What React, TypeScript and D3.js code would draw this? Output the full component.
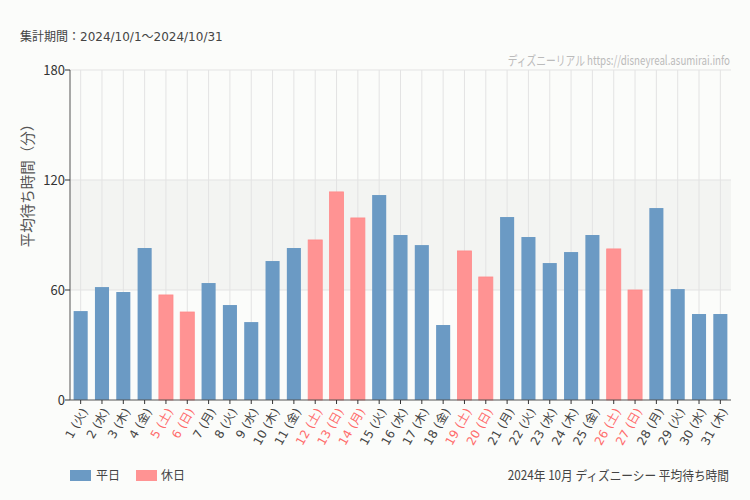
import React from "react";
import * as d3 from "d3";

const days = ["1","2","3","4","5","6","7","8","9","10","11","12","13","14","15","16","17","18","19","20","21","22","23","24","25","26","27","28","29","30","31"];
const weekdays = ["火","水","木","金","土","日","月","火","水","木","金","土","日","月","火","水","木","金","土","日","月","火","水","木","金","土","日","月","火","水","木"];
const holidays = [false,false,false,false,true,true,false,false,false,false,false,true,true,true,false,false,false,false,true,true,false,false,false,false,false,true,true,false,false,false,false];
const waitTimes = [48.5,61.6,58.9,82.9,57.3,48,63.8,51.8,42.5,75.8,82.9,87.3,113.5,99.3,111.8,90,84.5,40.9,81.3,67.1,99.8,88.9,74.7,80.7,90,82.4,60,104.7,60.5,46.9,46.9];
const yTicks = [0, 60, 120, 180];

const W = 750, H = 500;
const left = 70, right = 731, top = 70, bottom = 400;

export default function App() {
  const labels = days.map((d, i) => `${d} (${weekdays[i]})`);
  const x = d3.scaleBand<string>().domain(labels).range([left, right]).paddingInner(0.34).paddingOuter(0.17);
  const y = d3.scaleLinear().domain([0, 180]).range([bottom, top]);
  const blue = "#6b9ac4";
  const pink = "#ff9393";
  const redText = "#ff6b6b";
  const font = "'Noto Sans CJK JP', 'Noto Sans', sans-serif";
  const wide = "'DejaVu Sans', 'Noto Sans CJK JP', sans-serif";
  return (
    <svg width={W} height={H} style={{ position: "absolute", left: 0, top: 0, background: "#fbfcfa" }} fontFamily={font}>
      <rect x={0} y={0} width={W} height={H} fill="#fbfcfa" />
      <text x={20} y={41} fontSize={12} fill="#444" fontFamily={wide}>集計期間：2024/10/1〜2024/10/31</text>
      <g transform="translate(730,65) scale(0.75,1)">
        <text x={0} y={0} fontSize={13} fill="#bbb" textAnchor="end">ディズニーリアル https://disneyreal.asumirai.info</text>
      </g>
      {/* band 60-120 */}
      <rect x={left} y={y(120)} width={right - left} height={y(60) - y(120)} fill="#f3f4f2" />
      {/* vertical grid */}
      {labels.map((l) => (
        <line key={"g" + l} x1={x(l)! + x.bandwidth() / 2} x2={x(l)! + x.bandwidth() / 2} y1={top} y2={bottom} stroke="#e3e3e3" strokeWidth={1} />
      ))}
      {yTicks.slice(1).map((t) => (
        <line key={"h" + t} x1={left} x2={right} y1={y(t)} y2={y(t)} stroke="#e3e3e3" strokeWidth={1} />
      ))}
      {/* bars */}
      {labels.map((l, i) => (
        <rect key={"b" + l} x={x(l)!} y={y(waitTimes[i])} width={x.bandwidth()} height={bottom - y(waitTimes[i])}
          fill={holidays[i] ? pink : blue} stroke={holidays[i] ? "#ff8a8a" : "none"} strokeWidth={holidays[i] ? 0.8 : 0} />
      ))}
      {/* axes */}
      <line x1={left} x2={left} y1={top} y2={bottom} stroke="#555" strokeWidth={1} />
      <line x1={left} x2={right} y1={bottom} y2={bottom} stroke="#555" strokeWidth={1} />
      {yTicks.map((t) => (
        <g key={"yt" + t}>
          <line x1={left - 5} x2={left} y1={y(t)} y2={y(t)} stroke="#333" />
          <text x={left - 5} y={y(t)} dy="0.35em" textAnchor="end" fontSize={13} fill="#333">{t}</text>
        </g>
      ))}
      {labels.map((l, i) => {
        const cx = x(l)! + x.bandwidth() / 2;
        return (
          <g key={"xt" + l}>
            <line x1={cx} x2={cx} y1={bottom} y2={bottom + 4} stroke="#333" />
            <text transform={`translate(${cx + 4},${bottom + 9}) rotate(-60)`} textAnchor="end" dy="0.35em" fontSize={12}
              fontFamily={wide} fill={holidays[i] ? redText : "#444"}>{l}</text>
          </g>
        );
      })}
      <text transform={`translate(33,182) rotate(-90)`} textAnchor="middle" fontSize={14.5} fill="#555">平均待ち時間（分）</text>
      {/* legend */}
      <rect x={70} y={470} width={21} height={11} fill={blue} />
      <text x={96} y={480} fontSize={12} fill="#444">平日</text>
      <rect x={136} y={470} width={21} height={11} fill={pink} />
      <text x={161} y={480} fontSize={12} fill="#444">休日</text>
      <g transform="translate(729,480) scale(0.9,1)">
        <text x={0} y={0} textAnchor="end" fontSize={13} fill="#444">2024年 10月 ディズニーシー 平均待ち時間</text>
      </g>
    </svg>
  );
}
